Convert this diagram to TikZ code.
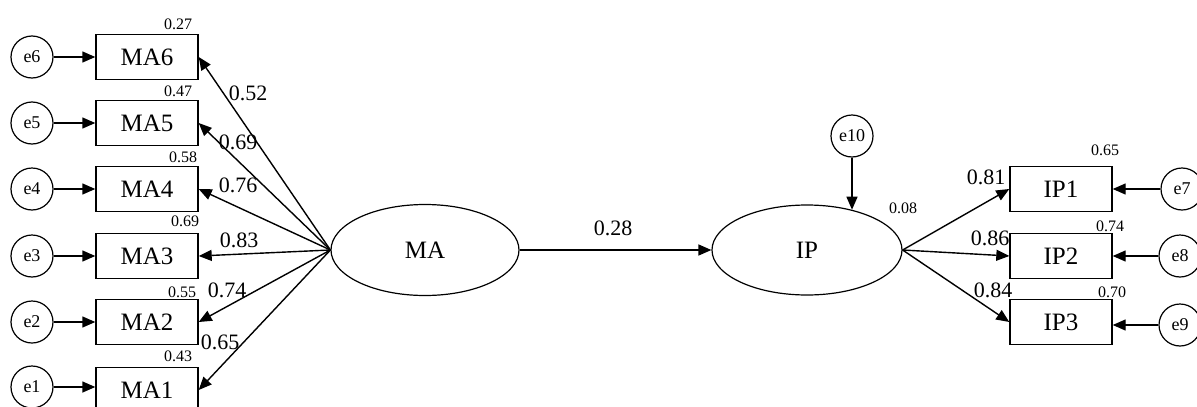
\documentclass[tikz,border=0pt]{standalone}
\usepackage{fontspec}
\setmainfont{Liberation Serif}
\usetikzlibrary{arrows.meta,shapes.geometric}
\begin{document}
\begin{tikzpicture}[x=1pt,y=-1pt,
  obs/.style={draw,line width=1.4pt,minimum width=102pt,minimum height=45pt,inner sep=0pt,font=\fontsize{25}{25}\selectfont},
  lat/.style={draw,ellipse,line width=1.2pt,inner sep=0pt,font=\fontsize{25}{25}\selectfont},
  err/.style={draw,circle,line width=1.2pt,minimum size=42pt,inner sep=0pt,font=\fontsize{18}{18}\selectfont},
  pth/.style={font=\fontsize{22}{22}\selectfont,inner sep=0pt},
  rsq/.style={font=\fontsize{16}{16}\selectfont,inner sep=0pt},
  arr/.style={line width=1.4pt,-{Triangle[length=13pt,width=11pt]}}
]
\useasboundingbox (0,0) rectangle (1197,407);
% observed MA
\node[obs] (ma6) at (147,57) {MA6};
\node[obs] (ma5) at (147,123) {MA5};
\node[obs] (ma4) at (147,189) {MA4};
\node[obs] (ma3) at (147,256) {MA3};
\node[obs] (ma2) at (147,322) {MA2};
\node[obs] (ma1) at (147,390) {MA1};
% errors left
\node[err] (e6) at (32,57) {e6};
\node[err] (e5) at (32,123) {e5};
\node[err] (e4) at (32,189) {e4};
\node[err] (e3) at (32,256) {e3};
\node[err] (e2) at (32,322) {e2};
\node[err] (e1) at (32,387) {e1};
\foreach \i in {1,...,6} {\draw[arr] (e\i.east) -- (e\i.east -| ma\i.west);}
% latent
\node[lat,minimum width=188pt,minimum height=91pt] (MA) at (425,250) {MA};
\node[lat,minimum width=190pt,minimum height=90pt] (IP) at (807,250) {IP};
\foreach \i in {1,...,6} {\draw[arr] (MA.west) -- (ma\i.east);}
\draw[arr] (MA.east) -- (IP.west);
% IP side
\node[obs] (ip1) at (1061,189) {IP1};
\node[obs] (ip2) at (1061,256) {IP2};
\node[obs] (ip3) at (1061,322) {IP3};
\node[err] (e7) at (1182,189) {e7};
\node[err] (e8) at (1180,256) {e8};
\node[err] (e9) at (1180,325) {e9};
\draw[arr] (e7.west) -- (e7.west -| ip1.east);
\draw[arr] (e8.west) -- (e8.west -| ip2.east);
\draw[arr] (e9.west) -- (e9.west -| ip3.east);
\draw[arr] (IP.east) -- (ip1.west);
\draw[arr] (IP.east) -- (ip2.west);
\draw[arr] (IP.east) -- (ip3.west);
\node[err] (e10) at (852,136) {e10};
\draw[arr] (e10.south) -- (e10 |- IP.42);
% R-squared labels
\node[rsq] (r6) at (178,24) {0.27};
\node[rsq] (r5) at (178,91) {0.47};
\node[rsq] (r4) at (183,157) {0.58};
\node[rsq] (r3) at (185,221) {0.69};
\node[rsq] (r2) at (182,292) {0.55};
\node[rsq] (r1) at (178,356) {0.43};
\node[rsq] (rip) at (903,208) {0.08};
\node[rsq] (rp1) at (1105,150) {0.65};
\node[rsq] (rp2) at (1110,226) {0.74};
\node[rsq] (rp3) at (1112,292) {0.70};
% path labels
\node[pth] (l6) at (248,93) {0.52};
\node[pth] (l5) at (238,142) {0.69};
\node[pth] (l4) at (238,185) {0.76};
\node[pth] (l3) at (239,240) {0.83};
\node[pth] (l2) at (227,290) {0.74};
\node[pth] (l1) at (220,342) {0.65};
\node[pth] (lmi) at (613,228) {0.28};
\node[pth] (lp1) at (986,177) {0.81};
\node[pth] (lp2) at (990,238) {0.86};
\node[pth] (lp3) at (993,290) {0.84};
\end{tikzpicture}
\end{document}
